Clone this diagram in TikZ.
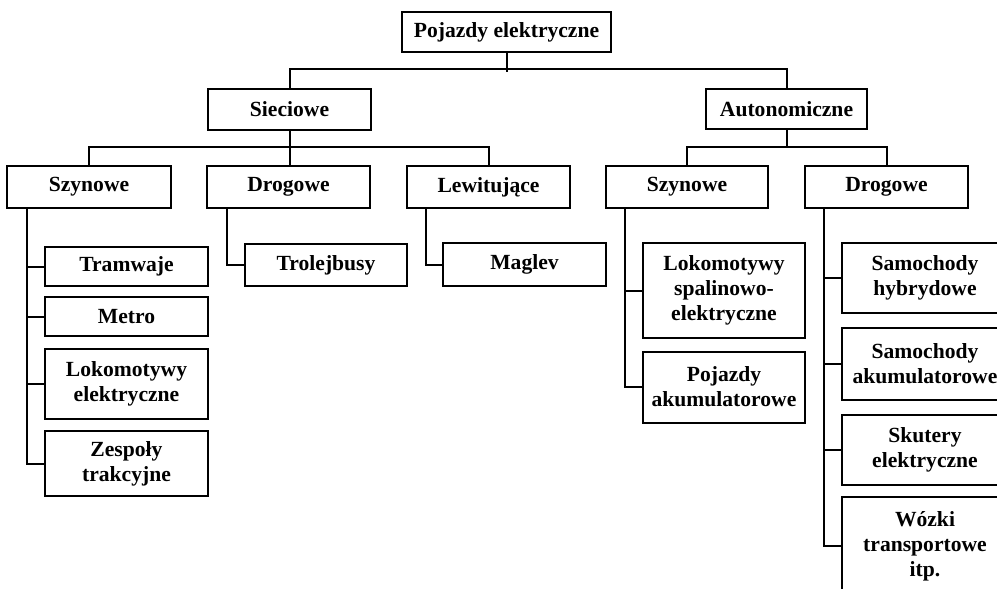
\documentclass[tikz,border=0pt]{standalone}
\usepackage{fontspec}
\setmainfont{Liberation Serif}
\begin{document}
\begin{tikzpicture}[x=1pt,y=-1pt,
  box/.style={draw, line width=2pt, align=center, inner sep=0pt,
    font=\fontsize{21.6}{25}\selectfont\bfseries},
  conn/.style={line width=2pt}]
\useasboundingbox (0,0) rectangle (997,589);
\clip (0,0) rectangle (997,589);
% level 0
\node[box, minimum width=209pt, minimum height=40pt] (root) at (506.5,32) {Pojazdy elektryczne};
% level 1
\node[box, minimum width=163pt, minimum height=41pt] (siec) at (289.5,109.5) {Sieciowe};
\node[box, minimum width=161pt, minimum height=40pt] (auto) at (786.5,109) {Autonomiczne};
% level 2
\node[box, minimum width=164pt, minimum height=42pt] (s1) at (89,187) {Szynowe};
\node[box, minimum width=163pt, minimum height=42pt] (s2) at (288.5,187) {Drogowe};
\node[box, minimum width=163pt, minimum height=42pt] (s3) at (488.5,187) {Lewitujące};
\node[box, minimum width=162pt, minimum height=42pt] (a1) at (687,187) {Szynowe};
\node[box, minimum width=163pt, minimum height=42pt] (a2) at (886.5,187) {Drogowe};
% level 3
\node[box, minimum width=163pt, minimum height=39pt] (tram) at (126.5,266.5) {Tramwaje};
\node[box, minimum width=163pt, minimum height=39pt] (metro) at (126.5,316.5) {Metro};
\node[box, minimum width=163pt, minimum height=70pt] (loke) at (126.5,384) {Lokomotywy\\elektryczne};
\node[box, minimum width=163pt, minimum height=65pt] (zesp) at (126.5,463.5) {Zespoły\\trakcyjne};
\node[box, minimum width=162pt, minimum height=42pt] (troll) at (326,265) {Trolejbusy};
\node[box, minimum width=163pt, minimum height=43pt] (maglev) at (524.5,264.5) {Maglev};
\node[box, minimum width=162pt, minimum height=95pt] (lokspal) at (724,290.5) {Lokomotywy\\spalinowo-\\elektryczne};
\node[box, minimum width=162pt, minimum height=71pt] (pojak) at (724,387) {Pojazdy\\akumulatorowe};
\node[box, minimum width=166pt, minimum height=70pt] (samhyb) at (925,278) {Samochody\\hybrydowe};
\node[box, minimum width=166pt, minimum height=72pt] (samak) at (925,364) {Samochody\\akumulatorowe};
\node[box, minimum width=166pt, minimum height=70pt] (skut) at (925,450) {Skutery\\elektryczne};
\node[box, minimum width=166pt, minimum height=98pt] (wozki) at (925,546) {Wózki\\transportowe\\itp.};
% connectors
\draw[conn] (root.south) -- ++(0,19);
\draw[conn] (siec.north) -- ++(0,-19) -| (auto.north);
\draw[conn] (siec.south) -- (siec.south |- s2.north);
\draw[conn] (s1.north) -- ++(0,-18) -| (s3.north);
\draw[conn] (auto.south) -- ++(0,18);
\draw[conn] (a1.north) -- ++(0,-18) -| (a2.north);
\foreach \n in {tram,metro,loke,zesp}
  \draw[conn] ([xshift=21pt]s1.south west) |- (\n.west);
\draw[conn] ([xshift=21pt]s2.south west) |- (troll.west);
\draw[conn] ([xshift=20pt]s3.south west) |- (maglev.west);
\foreach \n in {lokspal,pojak}
  \draw[conn] ([xshift=20pt]a1.south west) |- (\n.west);
\foreach \n in {samhyb,samak,skut,wozki}
  \draw[conn] ([xshift=20pt]a2.south west) |- (\n.west);
\end{tikzpicture}
\end{document}
